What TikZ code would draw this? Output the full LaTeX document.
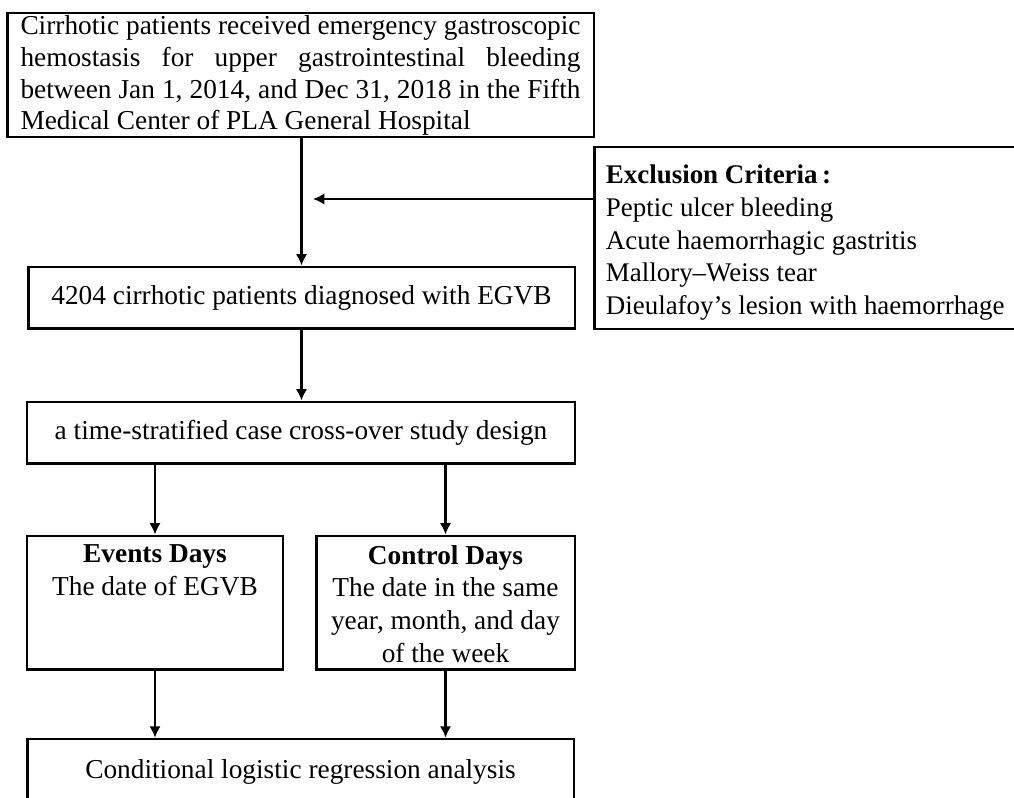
\documentclass[tikz,border=0pt]{standalone}
\usepackage{fontspec}
\setmainfont{Liberation Serif}
\usetikzlibrary{arrows.meta}

\begin{document}
\begin{tikzpicture}[x=0.75pt, y=-0.75pt,
        box/.style={draw=black, line width=2pt, inner sep=0pt, font=\fontsize{20.5}{24}\selectfont},
        leadtext/.style={anchor=north, text width=420pt, align=justify, inner xsep=0pt, inner ysep=3pt, font=\fontsize{20.5}{23.7}\selectfont},
        daytext/.style={anchor=north, align=center, inner xsep=0pt, inner ysep=7.7pt, font=\fontsize{20.5}{24.5}\selectfont},
        listtext/.style={anchor=north west, align=left, inner xsep=9.5pt, inner ysep=14.5pt, font=\fontsize{20.2}{24.5}\selectfont},
        arr/.style={-{Latex[length=8.5pt, width=8.5pt]}, line width=2.2pt}]
            \useasboundingbox (0,0) rectangle (1014,797);
            \clip (0,0) rectangle (1014,797);

            \node[box, minimum width=440pt, minimum height=93pt,
                  label={[leadtext]north:{Cirrhotic patients received emergency gastroscopic\linebreak
                                          hemostasis for upper gastrointestinal bleeding\linebreak
                                          between Jan 1, 2014, and Dec 31, 2018 in the Fifth\linebreak
                                          Medical Center of PLA General Hospital}}] (source) at (300.5,75) {};
            \node[box, anchor=west, minimum width=345pt, minimum height=136.5pt,
                  label={[listtext]north west:{\textbf{Exclusion Criteria\,:}\\
                                               Peptic ulcer bleeding\\
                                               Acute haemorrhagic gastritis\\
                                               Mallory–Weiss tear\\
                                               Dieulafoy’s lesion with haemorrhage}}] (excl) at (593,238) {};
            \node[box, minimum width=410pt, minimum height=46pt] (egvb) at (301.5,297.5) {4204 cirrhotic patients diagnosed with EGVB};
            \node[box, minimum width=411pt, minimum height=46pt] (design) at (301,432.5) {a time-stratified case cross-over study design};
            \node[box, minimum width=192pt, minimum height=100pt,
                  label={[daytext]north:{\textbf{Events Days}\\The date of EGVB}}] (events) at (155,602.5) {};
            \node[box, minimum width=194pt, minimum height=100pt,
                  label={[daytext]north:{\textbf{Control Days}\\The date in the same\\year, month, and day\\of the week}}] (control) at (445.5,602.5) {};
            \node[box, minimum width=410pt, minimum height=49.5pt] (analysis) at (300.5,772) {Conditional logistic regression analysis};

            \coordinate (tip) at (313,199);

            \draw[arr] (egvb.north |- source.south) -- (egvb.north);
            \draw[arr] (excl.west |- tip) -- (tip);
            \draw[arr] (egvb.south) -- (design.north -| egvb.south);
            \draw[arr] (design.south -| events.north) -- (events.north);
            \draw[arr] (design.south -| control.north) -- (control.north);
            \draw[arr] (events.south) -- (analysis.north -| events.south);
            \draw[arr] (control.south) -- (analysis.north -| control.south);
        \end{tikzpicture}
\end{document}
